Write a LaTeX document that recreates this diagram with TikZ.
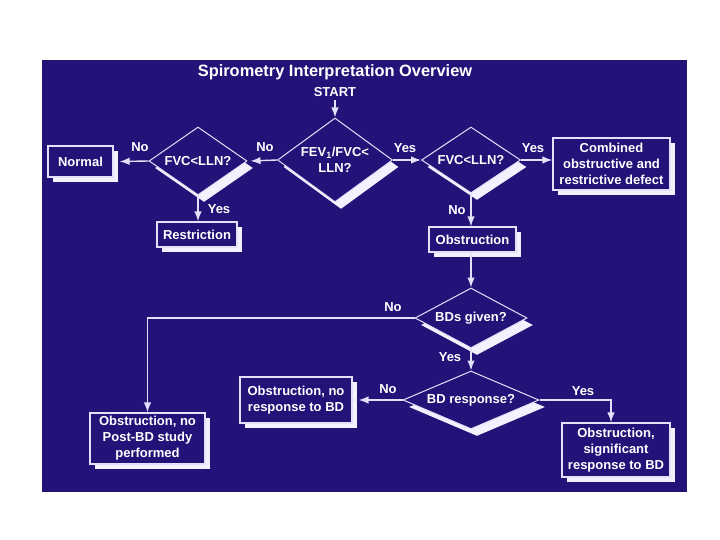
\documentclass[tikz,border=0pt]{standalone}
\usepackage{fontspec}
\setmainfont{Liberation Sans}
\usetikzlibrary{shapes.geometric,shadows,arrows.meta,calc}
\definecolor{bg}{RGB}{36,18,120}
\definecolor{linec}{RGB}{225,225,250}
\definecolor{shadowc}{RGB}{242,242,255}
\begin{document}
\begin{tikzpicture}[x=1pt,y=-1pt,
  every node/.style={font=\bfseries\fontsize{13}{16}\selectfont, text=white, align=center},
  shad/.style={drop shadow={shadow xshift=5pt,shadow yshift=-5pt,fill=shadowc,opacity=1}},
  dshad/.style={drop shadow={shadow xshift=6pt,shadow yshift=-7pt,fill=shadowc,opacity=1}},
  box/.style={rectangle, draw=linec, line width=1.2pt, fill=bg, inner sep=0pt, shad},
  dia/.style={diamond, draw=linec, line width=1pt, fill=bg, inner sep=0pt, dshad},
  arr/.style={draw=linec, line width=1.4pt, -{Latex[length=10pt,width=7.5pt]}},
  ln/.style={draw=linec, line width=1.4pt}]
\fill[white] (0,0) rectangle (720,540);
\fill[bg] (42,60) rectangle (687,492);
\useasboundingbox (0,0) rectangle (720,540);

\node[font=\bfseries\fontsize{16.4}{19}\selectfont] (title) at (335,72) {Spirometry Interpretation Overview};
\node (start) at (335,92) {START};

\node[dia, minimum width=115pt, minimum height=84pt, aspect=1.37] (fev) at (335,160) {FEV\textsubscript{1}/FVC<\\LLN?};
\node[dia, minimum width=98pt, minimum height=68pt, aspect=1.44] (fvcL) at (198,161) {FVC<LLN?};
\node[dia, minimum width=99pt, minimum height=66pt, aspect=1.5] (fvcR) at (471,160) {FVC<LLN?};

\node[box, minimum width=65pt, minimum height=31pt] (normal) at (80.5,161.5) {Normal};
\node[box, minimum width=80pt, minimum height=25pt] (restr) at (197,234.5) {Restriction};
\node[box, minimum width=117pt, minimum height=52pt] (comb) at (611.5,164) {Combined\\obstructive and\\restrictive defect};
\node[box, minimum width=87pt, minimum height=25pt] (obst) at (472.5,239.5) {Obstruction};

\node[dia, minimum width=112pt, minimum height=60pt, aspect=1.87] (bdg) at (471,318) {BDs given?};
\node[dia, minimum width=136pt, minimum height=58pt, aspect=2.34] (bdr) at (471,400) {BD response?};

\node[box, minimum width=112pt, minimum height=46pt] (noresp) at (296,400) {Obstruction, no\\response to BD};
\node[box, minimum width=115pt, minimum height=51pt] (nopost) at (147.5,438.5) {Obstruction, no\\Post-BD study\\performed};
\node[box, minimum width=108pt, minimum height=54pt] (signif) at (616,450) {Obstruction,\\significant\\response to BD};

% connectors
\draw[arr] (start.south) -- (fev.north);
\draw[arr] (fev.west) -- ([xshift=3pt]fvcL.east);
\draw[arr] (fvcL.west) -- ([xshift=6pt]normal.east);
\draw[arr] (fvcL.south) -- (fvcL.south |- restr.north);
\draw[arr] (fev.east) -- (fvcR.west);
\draw[arr] (fvcR.east) -- (fvcR.east -| comb.west);
\draw[arr] (fvcR.south) -- (fvcR.south |- obst.north);
\draw[arr] (bdg.north |- obst.south) -- (bdg.north);
\draw[arr] (bdg.west) -| (nopost.north);
\draw[arr] (bdg.south) -- (bdr.north);
\draw[arr] (bdr.west) -- ([xshift=6pt]noresp.east);
\draw[arr] (bdr.east) -| ([xshift=-5pt]signif.north);

% labels
\node (l1) at (140,147) {No};
\node (l2) at (265,147) {No};
\node (l3) at (405,148) {Yes};
\node (l4) at (533,148) {Yes};
\node (l5) at (219,209) {Yes};
\node (l6) at (457,210) {No};
\node (l7) at (393,307) {No};
\node (l8) at (450,357) {Yes};
\node (l9) at (388,389) {No};
\node (l10) at (583,391) {Yes};
\end{tikzpicture}
\end{document}
